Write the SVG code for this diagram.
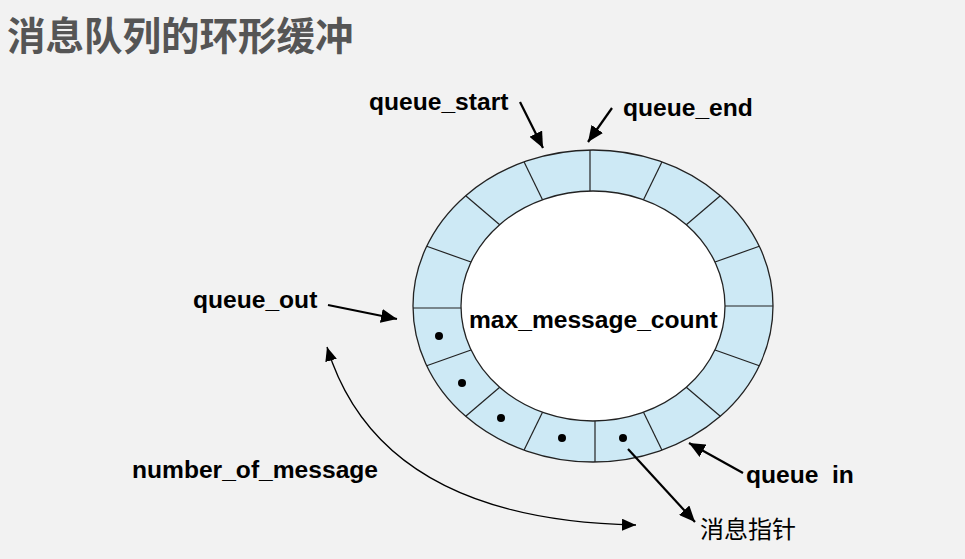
<svg xmlns="http://www.w3.org/2000/svg" width="965" height="559" viewBox="0 0 965 559">
<style>
.lbl{font-family:"Liberation Sans",Arial,sans-serif;font-weight:bold;font-size:24.6px;fill:#000}
.title{font-family:"Liberation Sans","Noto Sans CJK SC",sans-serif;font-weight:bold;font-size:38.5px;fill:#555}
.cn{font-family:"Liberation Sans","Noto Sans CJK SC",sans-serif;font-size:24px;fill:#000}
.div{stroke:#222;stroke-width:1.2}
.arr{stroke:#000;stroke-width:2.2;fill:none;marker-end:url(#ah)}
.curve{stroke:#000;stroke-width:1.3;fill:none;marker-end:url(#ah2);marker-start:url(#ahs)}
.dot{fill:#000}
</style>
<defs>
<marker id="ah" markerUnits="userSpaceOnUse" markerWidth="18" markerHeight="14" refX="16" refY="7" orient="auto">
<path d="M0,0 L16,7 L0,14 Z" fill="#000"/>
</marker>
<marker id="ah2" markerUnits="userSpaceOnUse" markerWidth="16" markerHeight="12" refX="14" refY="6" orient="auto">
<path d="M0,0 L14,6 L0,12 Z" fill="#000"/>
</marker>
<marker id="ahs" markerUnits="userSpaceOnUse" markerWidth="16" markerHeight="12" refX="2" refY="6" orient="auto">
<path d="M16,0 L2,6 L16,12 Z" fill="#000"/>
</marker>
</defs>
<rect width="965" height="559" fill="#f2f2f2"/>
<text class="title" x="7" y="50">消息队列的环形缓冲</text>
<g id="ring">
<ellipse cx="593" cy="306" rx="180" ry="156" fill="#cde9f5" stroke="#222" stroke-width="1.3"/>
<ellipse cx="593" cy="306" rx="132" ry="115" fill="#fff" stroke="#222" stroke-width="1.3"/>
<g class="div">
<line x1="773" y1="306" x2="725" y2="306"/>
<line x1="759.3" y1="365.7" x2="715" y2="350"/>
<line x1="720.3" y1="416.3" x2="686.3" y2="387.3"/>
<line x1="661.9" y1="450.1" x2="643.5" y2="412.2"/>
<line x1="595" y1="462" x2="595" y2="421"/>
<line x1="524.1" y1="450.1" x2="542.5" y2="412.2"/>
<line x1="465.7" y1="416.3" x2="499.7" y2="387.3"/>
<line x1="426.7" y1="365.7" x2="471" y2="350"/>
<line x1="413" y1="308" x2="461" y2="308"/>
<line x1="426.7" y1="246.3" x2="471" y2="262"/>
<line x1="465.7" y1="195.7" x2="499.7" y2="224.7"/>
<line x1="524.1" y1="161.9" x2="542.5" y2="199.8"/>
<line x1="590" y1="150" x2="590" y2="191"/>
<line x1="661.9" y1="161.9" x2="643.5" y2="199.8"/>
<line x1="720.3" y1="195.7" x2="686.3" y2="224.7"/>
<line x1="759.3" y1="246.3" x2="715" y2="262"/>
</g>
<circle class="dot" cx="439" cy="336" r="4"/>
<circle class="dot" cx="462" cy="383" r="4"/>
<circle class="dot" cx="501" cy="418" r="4"/>
<circle class="dot" cx="562" cy="438" r="4"/>
<circle class="dot" cx="623" cy="438" r="4"/>
<text class="lbl" x="469" y="328">max_message_count</text>
</g>
<g id="connectors">
<line class="arr" x1="520" y1="102" x2="543" y2="148"/>
<line class="arr" x1="612" y1="108" x2="588" y2="142"/>
<line class="arr" x1="328" y1="305" x2="397" y2="319"/>
<line class="arr" x1="743" y1="473" x2="689" y2="443"/>
<line class="arr" x1="628" y1="449" x2="695" y2="522"/>
<path class="curve" d="M327,347 Q380,520 636,525"/>
</g>
<g id="queue_start"><text class="lbl" x="369" y="110">queue_start</text></g>
<g id="queue_end"><text class="lbl" x="623" y="116">queue_end</text></g>
<g id="queue_out"><text class="lbl" x="193" y="308">queue_out</text></g>
<g id="number_of_message"><text class="lbl" x="132" y="478">number_of_message</text></g>
<g id="queue_in"><text class="lbl" x="746" y="483">queue<tspan x="832">in</tspan></text></g>
<g id="msg_ptr"><text class="cn" x="700" y="538">消息指针</text></g>
</svg>
